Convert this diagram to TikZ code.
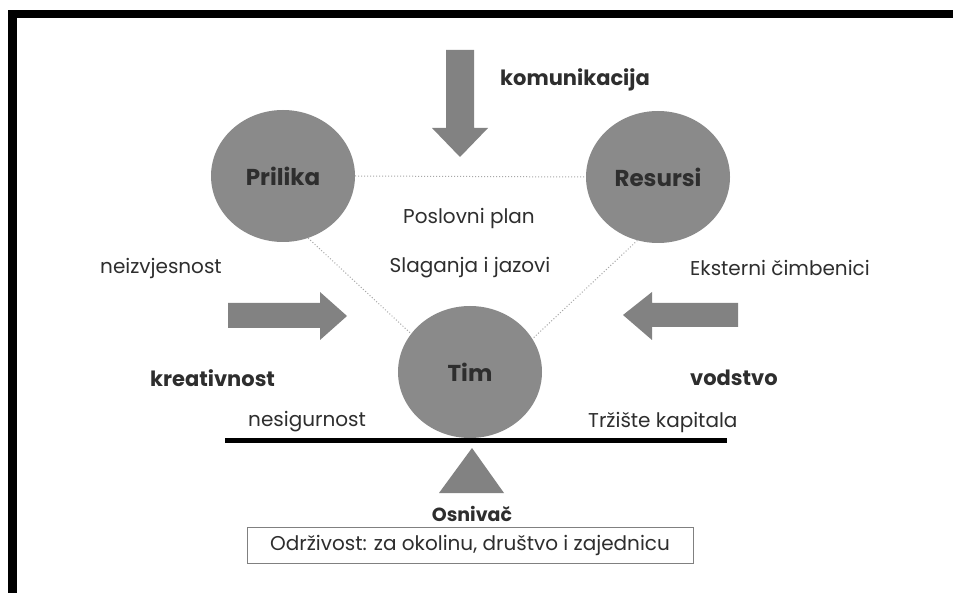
\documentclass[tikz,border=0pt]{standalone}
\usepackage{fontspec}
\setmainfont{Poppins}
\usetikzlibrary{shapes.geometric}
\definecolor{circgray}{HTML}{8A8A8A}
\definecolor{arrgray}{HTML}{828282}
\definecolor{txt}{HTML}{2E2E2E}
\definecolor{dotgray}{HTML}{A8A8A8}
\tikzset{
  circ/.style={ellipse, fill=circgray, minimum width=144pt, minimum height=132pt, inner sep=0pt, font=\fontsize{23}{26}\selectfont\bfseries, text=txt},
  lbl/.style={font=\fontsize{20}{23}\selectfont, text=txt, inner sep=0pt},
  blbl/.style={font=\fontsize{21}{24}\selectfont\bfseries, text=txt, inner sep=0pt},
  dotline/.style={dotgray, line width=1pt, dotted},
  arrowfill/.style={fill=arrgray}
}
\begin{document}
\begin{tikzpicture}[x=1pt,y=-1pt]
\useasboundingbox (0,0) rectangle (953,593);
\fill[white] (0,0) rectangle (953,593);
% frame
\fill[black] (8,10) rectangle (953,18);
\fill[black] (8,10) rectangle (17,593);
% circles
\node[circ] (pr) at (283,176) {Prilika};
\node[circ] (re) at (658,177) {Resursi};
\node[circ] (tim) at (470,372) {Tim};
% dotted connectors
\draw[dotline] (pr.east) -- (re.west);
\draw[dotline] (pr.-68) -- (tim.147);
\draw[dotline] (re.-108) -- (tim.28);
% arrows
\fill[arrowfill] (446,50) -- (474,50) -- (474,128) -- (488,128) -- (460,157) -- (432,128) -- (446,128) -- cycle;
\fill[arrowfill] (228,303) -- (320,303) -- (320,292) -- (347,316) -- (320,340) -- (320,328) -- (228,328) -- cycle;
\fill[arrowfill] (738,303) -- (652,303) -- (652,292) -- (623,315) -- (652,340) -- (652,327) -- (738,327) -- cycle;
% labels
\node[blbl, anchor=west] (kom) at (500,80) {komunikacija};
\node[lbl] (pp) at (469,218) {Poslovni plan};
\node[lbl] (sj) at (470,268) {Slaganja i jazovi};
\node[lbl, anchor=west] (nz) at (100,268) {neizvjesnost};
\node[lbl, anchor=west] (ek) at (690,268) {Eksterni čimbenici};
\node[blbl, anchor=west] (kr) at (150,378) {kreativnost};
\node[blbl, anchor=west] (vo) at (690,378) {vodstvo};
\node[lbl, anchor=west] (ns) at (248,422) {nesigurnost};
\node[lbl, anchor=west] (tk) at (588,422) {Tržište kapitala};
% balance beam and fulcrum
\coordinate (bl) at (225,440);
\coordinate (br) at (727,440);
\draw[black, line width=5pt] (bl) -- (br);
\fill[arrgray] (472,448) -- (504,493) -- (439,493) -- cycle;
\node[blbl, font=\fontsize{19}{22}\selectfont\bfseries] (os) at (472,514) {Osnivač};
\node[lbl, draw=gray, line width=1pt, minimum width=446pt, minimum height=36pt] (odr) at (470,545) {Održivost: za okolinu, društvo i zajednicu};
\end{tikzpicture}
\end{document}
